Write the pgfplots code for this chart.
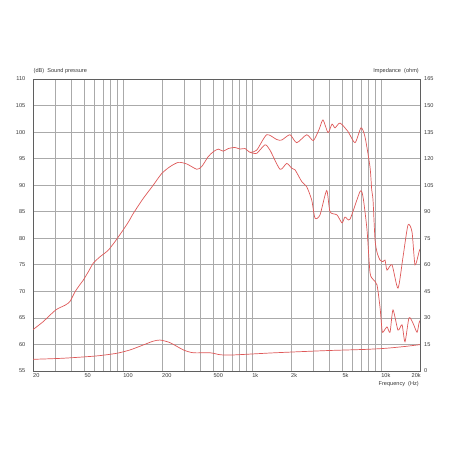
\documentclass[border=0pt]{standalone}
\usepackage{fontspec}
\setmainfont{Liberation Sans}
\usepackage{pgfplots}
\pgfplotsset{compat=1.18}
\usetikzlibrary{calc}
\definecolor{curve}{RGB}{222,88,88}
\definecolor{gridc}{RGB}{170,170,170}
\definecolor{framec}{RGB}{95,95,95}
\definecolor{txt}{RGB}{55,55,55}

\newcommand{\chartfont}{\fontsize{5.6}{6.5}\selectfont}

\pgfkeys{/pgf/number format/assume math mode=true}

\begin{document}
\begin{tikzpicture}
\begin{axis}[name=ax,
  scale only axis, width=387pt, height=292pt,
  xmode=log, xmin=20, xmax=20000,
  ymin=55, ymax=110, ytick={55,60,...,110},
  xtick={20,50,100,200,500,1000,2000,5000,10000,20000},
  xticklabels={20,50,100,200,500,1k,2k,5k,10k,\llap{20k}},
  minor xtick={30,40,60,70,80,90,300,400,600,700,800,900,3000,4000,6000,7000,8000,9000},
  grid=both,
  grid style={gridc, line width=0.7pt},
  minor grid style={gridc, line width=0.7pt},
  tick style={draw=none},
  axis line style={framec, line width=0.7pt},
  ticklabel style={font=\chartfont, text=txt},
  xticklabel style={anchor=north west, inner sep=0pt, yshift=-2.5pt},
  yticklabel style={anchor=east, inner sep=0pt, xshift=-7.5pt},
]
% sound pressure, on axis
\addplot[curve, line width=0.7pt, smooth, tension=0.4] coordinates {
 (20,62.8) (24,64.3) (30,66.5) (35.5,67.4) (38.7,68.1) (42.3,69.9)
 (46,71.2) (49,72.1) (54,73.8) (58.6,75.3) (66,76.5) (72,77.2) (77,77.8)
 (86.6,79.4) (97.6,81.2) (110,83.1) (120,84.7) (143,87.5) (171,90.0) (199,92.2)
 (231,93.5) (268,94.3) (311,94.0) (372,93.0) (406,93.5) (457,95.4)
 (500,96.3) (546,96.8) (597,96.4) (653,96.9) (736,97.1) (805,96.8)
 (880,96.9) (962,96.2) (1084,96.6) (1296,99.5) (1550,98.6) (1695,98.5)
 (1964,99.5) (2214,98.0) (2648,99.5) (2978,98.4) (3300,100.5) (3542,102.3)
 (3872,99.9) (4158,101.5) (4386,100.8) (4796,101.7) (5532,100.1)
 (6270,98.0) (6978,100.8) (7494,99.1) (8194,93.4) (8446,89.1) (8646,87.2)
 (8960,79.7) (9300,77.3) (9796,75.9) (10330,75.6) (10710,75.9) (11100,74.0)
 (12130,75.0) (13500,70.6) (14770,76.5) (16140,82.5) (17340,81.2)
 (18290,75.0) (19640,77.4) (20000,78.0)
};
% sound pressure, off axis
\addplot[curve, line width=0.7pt, smooth, tension=0.4] coordinates {
 (962,96.2) (1084,96.0) (1257,97.6) (1375,96.6) (1643,93.0) (1852,94.1)
 (2025,93.2) (2148,92.9) (2420,90.7) (2648,89.7) (2894,87.2) (3070,83.8)
 (3356,84.4) (3780,89.0) (4012,85.0) (4546,84.4) (4970,82.9) (5244,84.0)
 (5734,83.6) (6854,88.8) (7230,87.8) (7766,81.6) (8194,73.5) (8700,72.2)
 (9284,71.2) (9796,67.0) (10150,62.7) (10330,62.3) (11100,63.3)
 (11710,62.3) (12350,66.5) (13500,62.7) (14510,63.7) (15300,60.5)
 (16430,65.0) (17650,64.0) (18960,62.3) (19640,64.0) (20000,64.5)
};
\end{axis}
\begin{axis}[
  scale only axis, width=387pt, height=292pt,
  xmode=log, xmin=20, xmax=20000,
  ymin=0, ymax=165, ytick={0,15,...,165},
  axis y line*=right, axis x line=none,
  tick style={draw=none},
  axis line style={framec, line width=0.7pt},
  ticklabel style={font=\chartfont, text=txt},
  yticklabel style={anchor=west, inner sep=0pt, xshift=4pt},
]
% impedance
\addplot[curve, line width=0.7pt, smooth, tension=0.4] coordinates {
 (20,6.6) (34,7.2) (62,8.5) (89,10.0) (113,11.9) (143,14.7) (170,16.8)
 (193,17.5) (231,16.0) (293,11.9) (350,10.3) (471,10.3) (563,9.2)
 (673,9.0) (880,9.4) (1504,10.3) (3670,11.5) (7494,12.2) (10710,12.8)
 (15000,13.8) (20000,14.9)
};
\end{axis}
\node[anchor=base west, inner sep=0pt, font=\chartfont, text=txt] at ($(ax.north west)+(0.5pt,7pt)$) {(dB)\ \ Sound pressure};
\node[anchor=base east, inner sep=0pt, font=\chartfont, text=txt] at ($(ax.north east)+(-1pt,7pt)$) {Impedance\ \ (ohm)};
\node[anchor=base east, inner sep=0pt, font=\chartfont, text=txt] at ($(ax.south east)+(-1pt,-14pt)$) {Frequency\ \ (Hz)};
\path[use as bounding box] ($(ax.south west)+(-33pt,-81pt)$) rectangle ($(ax.south west)+(419pt,371pt)$);
\end{tikzpicture}
\end{document}
